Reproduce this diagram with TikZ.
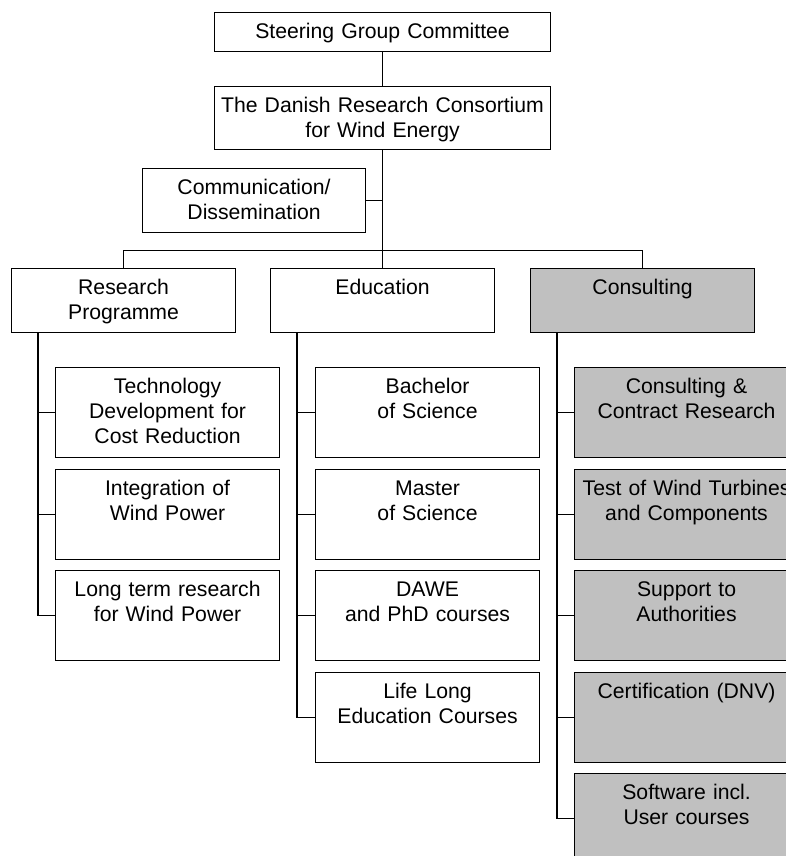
\documentclass[tikz,border=0pt]{standalone}
\usepackage{fontspec}
\setmainfont{Liberation Sans}
\definecolor{boxgray}{RGB}{192,192,192}
\begin{document}
\begin{tikzpicture}[x=1pt,y=-1pt,line width=1.1pt,
    box/.style={draw,inner sep=0pt,anchor=north west,align=center,
      text height=26pt,font=\fontsize{21.2}{25}\selectfont},
    unit/.style={box,text width=224pt,text depth=38pt},
    item/.style={box,text width=224pt,text depth=64pt},
    grey/.style={fill=boxgray}]
  \clip (0,0) rectangle (786,856);
  % top of the chart
  \node[box,text width=336pt,text depth=13pt] (steer) at (214,12) {Steering Group Committee};
  \node[box,text width=336pt,text depth=37pt] (danish) at (214,86)
    {The Danish Research Consortium\\for Wind Energy};
  \node[unit,text width=223pt] (comm) at (142,168) {Communication/\\Dissemination};
  % three branches
  \node[unit] (research) at (11,268) {Research\\Programme};
  \node[unit] (edu) at (270,268) {Education};
  \node[unit,grey] (cons) at (530,268) {Consulting};
  \node[item] (tech) at (55,367) {Technology\\Development for\\Cost Reduction};
  \node[item] (integ) at (55,468.5) {Integration of\\Wind Power};
  \node[item] (longterm) at (55,570) {Long term research\\for Wind Power};
  \node[item] (bsc) at (315,367) {Bachelor\\of Science};
  \node[item] (msc) at (315,468.5) {Master\\of Science};
  \node[item] (dawe) at (315,570) {DAWE\\and PhD courses};
  \node[item] (life) at (315,671.5) {Life Long\\Education Courses};
  \node[item,grey] (contract) at (574,367) {Consulting \&\\Contract Research};
  \node[item,grey] (test) at (574,468.5) {Test of Wind Turbines\\and Components};
  \node[item,grey] (support) at (574,570) {Support to\\Authorities};
  \node[item,grey] (cert) at (574,671.5) {Certification (DNV)};
  \node[item,grey] (soft) at (574,773) {Software incl.\\User courses};
  \coordinate (bus) at (382,250.5);
  \coordinate (rspine) at (38,332);
  \coordinate (espine) at (297,332);
  \coordinate (cspine) at (557,332);
  \begin{scope}[-]
    \draw (steer) to (danish);
    \draw (danish) to (edu);
    \draw (comm.east) to (comm.east -| danish.south);
    \draw (research.north) |- (bus) -| (cons.north);
    \foreach \n in {tech,integ,longterm}
      \draw (rspine) |- (\n.west);
    \foreach \n in {bsc,msc,dawe,life}
      \draw (espine) |- (\n.west);
    \foreach \n in {contract,test,support,cert,soft}
      \draw (cspine) |- (\n.west);
  \end{scope}
\end{tikzpicture}
\end{document}
